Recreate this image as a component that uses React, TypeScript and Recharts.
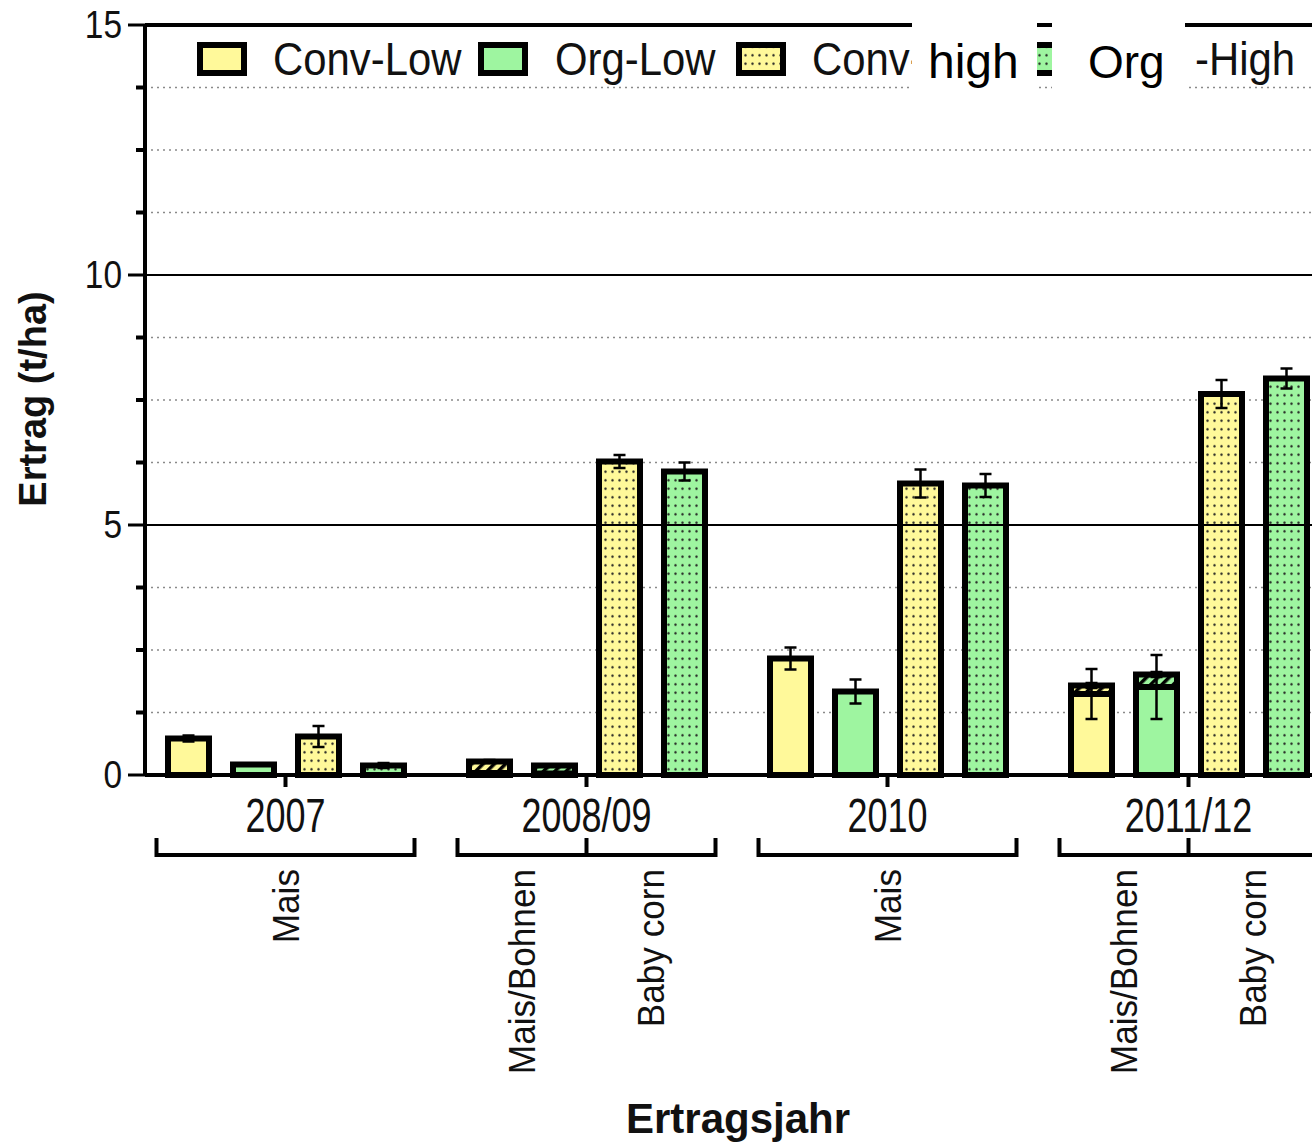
import React from 'react'
import { BarChart, Bar, XAxis, YAxis, CartesianGrid, ReferenceLine, ErrorBar } from 'recharts'

const years = ['2007', '2008/09', '2010', '2011/12']
const crops = [['Mais'], ['Mais/Bohnen', 'Baby corn'], ['Mais'], ['Mais/Bohnen', 'Baby corn']]

// low input: maize part + bean part (mixed cropping)
const convLowMaize = [0.73, 0.04, 2.33, 1.62]
const convLowMaizeErr = [0.06, 0.02, 0.22, 0.5]
const convLowBeans = [null, 0.23, null, 0.17]
const convLowBeansErr = [null, 0.03, null, 0.05]
const orgLowMaize = [0.21, 0.03, 1.67, 1.76]
const orgLowMaizeErr = [0, 0.02, 0.24, 0.64]
const orgLowBeans = [null, 0.16, null, 0.25]
const orgLowBeansErr = [null, 0.02, null, 0.05]
// high input
const convHigh = [0.77, 6.27, 5.83, 7.62]
const convHighErr = [0.21, 0.13, 0.28, 0.28]
const orgHigh = [0.19, 6.07, 5.79, 7.93]
const orgHighErr = [0.05, 0.18, 0.23, 0.2]

const yTicks = [0, 1.25, 2.5, 3.75, 5, 6.25, 7.5, 8.75, 10, 11.25, 12.5, 13.75, 15]
// legend as it appears: the last two labels are partly pasted over
const legendLabels = ['Conv-Low', 'Org-Low', 'Conv-', '-High']
const patchLabels = ['high', 'Org']

const data = years.map((year, i) => ({
  year,
  convLowMaize: convLowMaize[i],
  convLowMaizeErr: convLowMaizeErr[i],
  convLowBeans: convLowBeans[i],
  convLowBeansErr: convLowBeansErr[i],
  orgLowMaize: orgLowMaize[i],
  orgLowMaizeErr: orgLowMaizeErr[i],
  orgLowBeans: orgLowBeans[i],
  orgLowBeansErr: orgLowBeansErr[i],
  convHigh: convHigh[i],
  convHighErr: convHighErr[i],
  orgHigh: orgHigh[i],
  orgHighErr: orgHighErr[i],
}))

const YELLOW = '#fff99a'
const GREEN = '#9ef5a0'
const FONT = "'Liberation Sans', Arial, sans-serif"
const INK = '#111'

function Patterns() {
  return (
    <svg width={0} height={0} style={{ position: 'absolute' }}>
      <defs>
        <pattern id="dotsY" patternUnits="userSpaceOnUse" width={7} height={8.5}>
          <rect width={7} height={8.5} fill={YELLOW} />
          <circle cx={3.5} cy={4.2} r={1.2} fill="#222" />
        </pattern>
        <pattern id="dotsG" patternUnits="userSpaceOnUse" width={7} height={8.5}>
          <rect width={7} height={8.5} fill={GREEN} />
          <circle cx={3.5} cy={4.2} r={1.2} fill="#222" />
        </pattern>
        <pattern id="hatchY" patternUnits="userSpaceOnUse" width={8} height={8} patternTransform="rotate(45)">
          <rect width={8} height={8} fill={YELLOW} />
          <rect width={3.5} height={8} fill="#000" />
        </pattern>
        <pattern id="hatchG" patternUnits="userSpaceOnUse" width={8} height={8} patternTransform="rotate(45)">
          <rect width={8} height={8} fill={GREEN} />
          <rect width={3.5} height={8} fill="#000" />
        </pattern>
      </defs>
    </svg>
  )
}

function YTick(props: any) {
  const { x, y, payload } = props
  const v = payload.value
  if (v % 5 === 0) {
    return (
      <g>
        <line x1={x - 17} x2={x} y1={y} y2={y} stroke="#000" strokeWidth={3} />
        <text
          transform={`translate(${x - 23},${y + 13}) scale(0.88,1)`}
          textAnchor="end"
          fontSize={38}
          fontFamily={FONT}
          fill={INK}
        >
          {v}
        </text>
      </g>
    )
  }
  return <line x1={x - 9} x2={x} y1={y} y2={y} stroke="#000" strokeWidth={4} />
}

function XTick(props: any) {
  const { x, y, payload } = props
  const base = y - 12
  const idx = years.indexOf(payload.value)
  const subs = crops[idx] || []
  const half = 129
  return (
    <g>
      <text
        transform={`translate(${x},${base + 57}) scale(0.75,1)`}
        textAnchor="middle"
        fontSize={48}
        fontFamily={FONT}
        fill={INK}
      >
        {payload.value}
      </text>
      <path
        d={`M${x - half},${base + 63} V${base + 80} H${x + half} V${base + 63}`}
        stroke="#000"
        strokeWidth={4}
        fill="none"
      />
      {subs.length === 2 && (
        <line x1={x} x2={x} y1={base + 63} y2={base + 80} stroke="#000" strokeWidth={4} />
      )}
      {subs.map((s, i) => {
        const cx = subs.length === 1 ? x : x + (i === 0 ? -half / 2 : half / 2)
        return (
          <text
            key={s}
            transform={`translate(${cx + 13},${base + 94}) rotate(-90) scale(0.95,1)`}
            textAnchor="end"
            fontSize={37}
            fontFamily={FONT}
            fill={INK}
          >
            {s}
          </text>
        )
      })}
    </g>
  )
}

function LegendOverlay() {
  const swatchX = [197, 478, 736, 1030]
  const textX = [273, 555, 812, 1195]
  const fills = [YELLOW, GREEN, 'url(#dotsY)', 'url(#dotsG)']
  return (
    <svg
      width={1312}
      height={120}
      style={{ position: 'absolute', left: 0, top: 0, pointerEvents: 'none' }}
    >
      {legendLabels.map((label, i) => (
        <g key={label}>
          <rect x={swatchX[i] + 3} y={45} width={44} height={28} fill={fills[i]} stroke="#000" strokeWidth={6} />
          <text
            transform={`translate(${textX[i]},75) scale(0.91,1)`}
            fontSize={46}
            fontFamily={FONT}
            fill={INK}
          >
            {label}
          </text>
        </g>
      ))}
      {/* pasted-over label patches */}
      <rect x={912} y={12} width={125} height={82} fill="#fff" />
      <text x={928} y={78} fontSize={48} fontFamily={FONT} fill="#000">{patchLabels[0]}</text>
      <rect x={1052} y={12} width={133} height={82} fill="#fff" />
      <text x={1088} y={78} fontSize={46} fontFamily={FONT} fill="#000">{patchLabels[1]}</text>
    </svg>
  )
}

const barStyle = { stroke: '#000', strokeWidth: 6, isAnimationActive: false }
const errStyle = { width: 6, stroke: '#000', strokeWidth: 2.5 }

export default function App() {
  return (
    <div
      style={{
        position: 'fixed',
        left: 0,
        top: 0,
        width: 1312,
        height: 1145,
        overflow: 'hidden',
        background: '#fff',
      }}
    >
      <Patterns />
      <BarChart
        width={1350}
        height={1145}
        data={data}
        margin={{ top: 25, right: 11, bottom: 0, left: 0 }}
        barSize={41}
        barGap={24}
      >
        <CartesianGrid vertical={false} stroke="#8a8a8a" strokeWidth={1.5} strokeDasharray="2 4" />
        <ReferenceLine y={5} stroke="#000" strokeWidth={2} />
        <ReferenceLine y={10} stroke="#000" strokeWidth={2} />
        <ReferenceLine y={15} stroke="#000" strokeWidth={4} />
        <XAxis
          dataKey="year"
          height={370}
          interval={0}
          padding={{ left: -10, right: 0 }}
          axisLine={{ stroke: '#000', strokeWidth: 4 }}
          tickLine={{ stroke: '#000', strokeWidth: 4 }}
          tickSize={12}
          tickMargin={0}
          tick={(p: any) => <XTick {...p} />}
          label={{
            content: () => (
              <text x={738} y={1133} textAnchor="middle" fontSize={42} fontWeight="bold" fontFamily={FONT} fill={INK}>
                Ertragsjahr
              </text>
            ),
          }}
        />
        <YAxis
          width={145}
          domain={[0, 15]}
          ticks={yTicks}
          interval={0}
          axisLine={{ stroke: '#000', strokeWidth: 4 }}
          tickLine={false}
          tickSize={0}
          tickMargin={0}
          tick={(p: any) => <YTick {...p} />}
          label={{
            content: () => (
              <text
                transform="translate(46,399) rotate(-90)"
                textAnchor="middle"
                fontSize={38}
                fontWeight="bold"
                fontFamily={FONT}
                fill={INK}
              >
                Ertrag (t/ha)
              </text>
            ),
          }}
        />
        <Bar dataKey="convLowMaize" stackId="cl" fill={YELLOW} {...barStyle}>
          <ErrorBar dataKey="convLowMaizeErr" direction="y" {...errStyle} />
        </Bar>
        <Bar dataKey="convLowBeans" stackId="cl" fill="url(#hatchY)" {...barStyle}>
          <ErrorBar dataKey="convLowBeansErr" direction="y" {...errStyle} />
        </Bar>
        <Bar dataKey="orgLowMaize" stackId="ol" fill={GREEN} {...barStyle}>
          <ErrorBar dataKey="orgLowMaizeErr" direction="y" {...errStyle} />
        </Bar>
        <Bar dataKey="orgLowBeans" stackId="ol" fill="url(#hatchG)" {...barStyle}>
          <ErrorBar dataKey="orgLowBeansErr" direction="y" {...errStyle} />
        </Bar>
        <Bar dataKey="convHigh" fill="url(#dotsY)" {...barStyle}>
          <ErrorBar dataKey="convHighErr" direction="y" {...errStyle} />
        </Bar>
        <Bar dataKey="orgHigh" fill="url(#dotsG)" {...barStyle}>
          <ErrorBar dataKey="orgHighErr" direction="y" {...errStyle} />
        </Bar>
      </BarChart>
      <LegendOverlay />
    </div>
  )
}
